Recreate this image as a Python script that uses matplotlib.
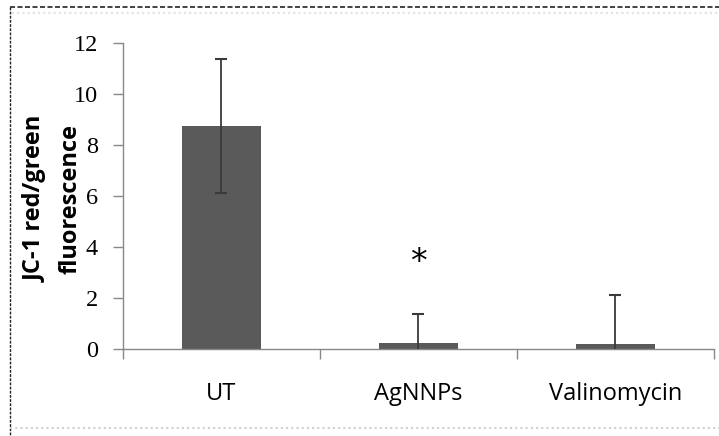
import matplotlib.pyplot as plt
from matplotlib.lines import Line2D

# data
groups = ['UT', 'AgNNPs', 'Valinomycin']
means = [8.75, 0.25, 0.2]
errors = [2.63, 1.12, 1.92]
star_group = 'AgNNPs'
star_y = 3.4

fig = plt.figure(figsize=(7.19, 4.36), dpi=100)
ax = fig.add_axes([0.171, 0.1995, 0.822, 0.7015])

x = list(range(len(groups)))
ax.bar(x, means, width=0.4, color='#5a5a5a', zorder=2)
ax.errorbar(x, means, yerr=errors, fmt='none', ecolor='#3a3a3a', elinewidth=1.3,
            capsize=4.5, capthick=1.5, zorder=3)

ax.text(groups.index(star_group), star_y, '*', ha='center', va='center',
        fontsize=24, family='DejaVu Sans')

ax.set_xlim(-0.5, len(groups) - 0.5)
ax.set_ylim(0, 12)
ax.set_yticks(range(0, 13, 2))
ax.set_yticklabels([str(v) for v in range(0, 13, 2)], family='Liberation Serif', fontsize=17.5)

# category labels centred, ticks on category boundaries
ax.set_xticks(x)
ax.set_xticklabels(groups, family='Open Sans', fontsize=17)
ax.tick_params(axis='x', which='major', length=0, pad=24)
ax.set_xticks([i - 0.5 for i in range(len(groups) + 1)], minor=True)
ax.tick_params(axis='x', which='minor', length=7, color='#888888', width=1)
ax.tick_params(axis='y', length=7, color='#888888', width=1, pad=11)

for s in ['top', 'right']:
    ax.spines[s].set_visible(False)
for s in ['left', 'bottom']:
    ax.spines[s].set_color('#888888')
    ax.spines[s].set_linewidth(1)

ax.set_ylabel('JC-1 red/green\nfluorescence', fontsize=17, fontweight='bold',
              family='Open Sans', linespacing=1.6)
ax.yaxis.set_label_coords(-0.069, 0.49)

# frame round the picture: dashed top and left, faint dotted lines inside
fig.lines.append(Line2D([0.014, 1.0], [0.984, 0.984], transform=fig.transFigure,
                        color='#222222', linestyle=(0, (3, 1.5)), linewidth=1.2))
fig.lines.append(Line2D([0.017, 1.0], [0.97, 0.97], transform=fig.transFigure,
                        color='#e2e2e2', linestyle=(0, (1, 1.5)), linewidth=1.5))
fig.lines.append(Line2D([0.014, 0.014], [0.984, 0.0], transform=fig.transFigure,
                        color='#222222', linestyle=(0, (2, 1)), linewidth=1))
fig.lines.append(Line2D([0.014, 1.0], [0.018, 0.018], transform=fig.transFigure,
                        color='#d0d0d0', linestyle=(0, (1, 1.5)), linewidth=1.5))

fig.savefig('out.png', dpi=100)
